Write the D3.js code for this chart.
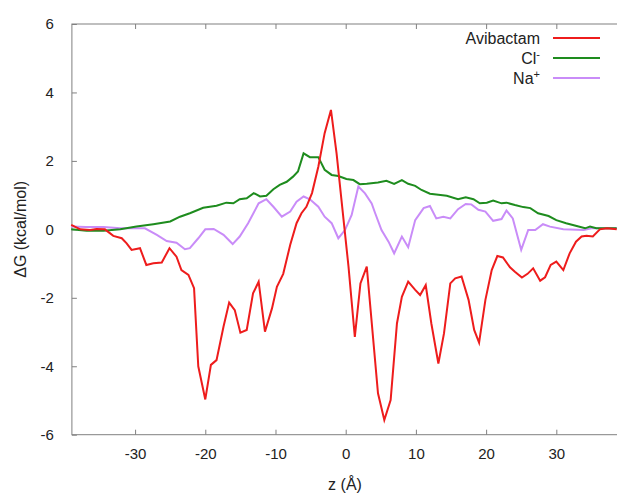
<!DOCTYPE html>
<html lang="en">
<head>
    <meta charset="UTF-8">
    <title>Free energy profile</title>
    <style>
        body { margin: 0; background: #fff; }
        svg { display: block; font-family: "Liberation Sans", Arial, sans-serif; }
        .axis path, .axis line { stroke: #808080; }
        .axis text { fill: #222; font-size: 15px; }
    </style>
</head>
<body>
    <svg id="chart" width="617" height="493"></svg>
    <script src="https://d3js.org/d3.v7.min.js"></script>
    <script>
        // [z (Å), ΔG (kcal/mol)]
        var avibactam = [
            [-39.1, 0.13], [-37.8, 0.0], [-36.4, -0.02], [-35.5, 0.01], [-34.3, 0.0], [-33.1, -0.19],
            [-31.9, -0.26], [-31.2, -0.41], [-30.5, -0.6], [-29.3, -0.55], [-28.4, -1.04], [-27.4, -0.99],
            [-26.2, -0.97], [-25.1, -0.55], [-24.1, -0.8], [-23.4, -1.19], [-22.4, -1.33], [-21.6, -1.72],
            [-21.0, -4.0], [-20.0, -4.97], [-19.2, -3.96], [-18.4, -3.82], [-17.4, -2.84], [-16.6, -2.14],
            [-15.8, -2.36], [-15.0, -3.02], [-14.1, -2.94], [-13.2, -1.87], [-12.4, -1.53], [-11.5, -2.99],
            [-10.5, -2.31], [-9.8, -1.68], [-8.9, -1.3], [-7.9, -0.45], [-7.0, 0.18], [-6.3, 0.47],
            [-5.6, 0.66], [-4.8, 1.06], [-3.9, 1.83], [-3.0, 2.81], [-2.1, 3.49], [-1.3, 2.22],
            [-0.3, 0.27], [0.4, -1.09], [1.3, -3.14], [2.1, -1.58], [3.0, -1.09], [4.6, -4.79],
            [5.5, -5.57], [6.4, -4.99], [7.3, -2.75], [8.0, -1.97], [8.9, -1.53], [9.9, -1.77],
            [10.6, -1.92], [11.4, -1.63], [12.2, -2.75], [13.2, -3.92], [14.0, -3.04], [14.9, -1.58],
            [15.6, -1.43], [16.5, -1.38], [17.5, -2.06], [18.3, -2.94], [19.0, -3.31], [19.9, -2.06],
            [20.8, -1.19], [21.6, -0.78], [22.4, -0.82], [23.4, -1.11], [24.1, -1.24], [25.1, -1.41],
            [25.9, -1.30], [26.7, -1.14], [27.7, -1.50], [28.4, -1.40], [29.2, -1.04], [30.0, -0.94],
            [31.0, -1.19], [31.9, -0.70], [32.8, -0.36], [33.6, -0.21], [34.3, -0.19], [35.2, -0.21],
            [36.2, 0.0], [37.2, 0.03], [38.6, 0.0]
        ];

        var chloride = [
            [-39.1, 0.0], [-36.9, -0.04], [-34.5, -0.04], [-32.1, 0.0], [-29.8, 0.08], [-27.4, 0.15],
            [-25.0, 0.23], [-23.6, 0.37], [-22.2, 0.47], [-20.3, 0.63], [-18.4, 0.69], [-17.0, 0.78],
            [-16.0, 0.76], [-15.1, 0.88], [-14.1, 0.91], [-13.1, 1.06], [-12.2, 0.96], [-11.3, 0.98],
            [-10.3, 1.17], [-9.4, 1.3], [-8.4, 1.39], [-7.5, 1.54], [-6.8, 1.69], [-6.0, 2.22],
            [-5.1, 2.11], [-3.9, 2.11], [-3.0, 1.74], [-2.0, 1.59], [-1.05, 1.56], [0.1, 1.47],
            [1.1, 1.44], [2.0, 1.32], [3.0, 1.33], [4.6, 1.37], [5.8, 1.42], [6.9, 1.33],
            [8.0, 1.44], [8.9, 1.33], [9.9, 1.27], [10.8, 1.15], [12.0, 1.04], [13.2, 1.01],
            [14.4, 0.98], [16.0, 0.88], [17.1, 0.94], [18.2, 0.88], [19.1, 0.76], [20.1, 0.78],
            [21.0, 0.84], [22.2, 0.76], [22.9, 0.78], [24.1, 0.71], [25.3, 0.65], [26.3, 0.62],
            [27.4, 0.47], [28.9, 0.39], [30.0, 0.27], [31.4, 0.18], [32.9, 0.10], [34.1, 0.03],
            [34.8, 0.08], [35.7, 0.03], [38.6, 0.03]
        ];

        var sodium = [
            [-39.1, 0.08], [-37.0, 0.07], [-34.5, 0.07], [-32.1, 0.03], [-28.6, 0.03], [-26.9, -0.16],
            [-25.5, -0.34], [-24.1, -0.39], [-22.9, -0.58], [-22.2, -0.55], [-21.0, -0.26], [-20.0, 0.0],
            [-18.8, 0.01], [-17.4, -0.16], [-16.1, -0.43], [-15.1, -0.21], [-13.9, 0.18], [-12.4, 0.76],
            [-11.3, 0.88], [-10.3, 0.66], [-9.1, 0.37], [-7.9, 0.52], [-7.0, 0.81], [-6.0, 0.96],
            [-5.1, 0.88], [-3.9, 0.66], [-3.0, 0.37], [-2.0, 0.18], [-1.05, -0.26], [-0.1, -0.02],
            [0.85, 0.42], [1.8, 1.25], [2.75, 1.05], [3.7, 0.76], [4.2, 0.47], [5.1, -0.02],
            [6.1, -0.36], [6.9, -0.70], [8.0, -0.21], [8.9, -0.52], [9.9, 0.27], [11.1, 0.62],
            [12.0, 0.68], [12.9, 0.32], [13.9, 0.37], [14.9, 0.32], [16.0, 0.59], [17.1, 0.74],
            [17.9, 0.73], [18.9, 0.57], [19.9, 0.52], [21.0, 0.25], [22.2, 0.30], [22.9, 0.55],
            [23.8, 0.32], [25.0, -0.60], [26.0, -0.02], [27.0, -0.02], [28.1, 0.15], [29.1, 0.08],
            [31.0, 0.0], [33.9, -0.02], [35.0, 0.03], [38.6, 0.03]
        ];

        var xTicks = [-30, -20, -10, 0, 10, 20, 30];
        var yTicks = [-6, -4, -2, 0, 2, 4, 6];

        var series = [
            { name: "Avibactam", sup: "", values: avibactam, color: "#ee1c1c" },
            { name: "Cl", sup: "-", values: chloride, color: "#1e8c1e" },
            { name: "Na", sup: "+", values: sodium, color: "#c98cf8" }
        ];

        var svg = d3.select("#chart");

        var plotLeft = 71.9, plotRight = 619.5, plotTop = 24, plotBottom = 434.7;

        var x = d3.scaleLinear().domain([-39, 39]).range([plotLeft, plotRight]);
        var y = d3.scaleLinear().domain([-6, 6]).range([plotBottom, plotTop]);

        // plain hyphen for negatives, like the original
        var fmt = function(d) { return String(d); };

        // frame
        svg.append("rect")
            .attr("x", plotLeft).attr("y", plotTop)
            .attr("width", plotRight - plotLeft).attr("height", plotBottom - plotTop)
            .attr("fill", "none").attr("stroke", "#808080");

        // axes with inward ticks, gnuplot style
        svg.append("g").attr("class", "axis")
            .attr("transform", "translate(0," + plotBottom + ")")
            .call(d3.axisBottom(x).tickValues(xTicks).tickSizeInner(-5).tickSizeOuter(0).tickPadding(14).tickFormat(fmt))
            .call(function(g) { g.select(".domain").remove(); });

        svg.append("g").attr("class", "axis")
            .attr("transform", "translate(0," + plotTop + ")")
            .call(d3.axisTop(x).tickValues(xTicks).tickSizeInner(-5).tickSizeOuter(0).tickFormat(""))
            .call(function(g) { g.select(".domain").remove(); });

        svg.append("g").attr("class", "axis")
            .attr("transform", "translate(" + plotLeft + ",0)")
            .call(d3.axisLeft(y).tickValues(yTicks).tickSizeInner(-5).tickSizeOuter(0).tickPadding(18).tickFormat(fmt))
            .call(function(g) { g.select(".domain").remove(); });

        // axis titles
        svg.append("text")
            .attr("x", 345).attr("y", 490)
            .attr("text-anchor", "middle")
            .style("font-size", "16px").style("fill", "#222")
            .text("z (Å)");

        svg.append("text")
            .attr("transform", "translate(26," + y(0) + ") rotate(-90)")
            .attr("text-anchor", "middle")
            .style("font-size", "16px").style("fill", "#222")
            .text("ΔG (kcal/mol)");

        // curves
        var line = d3.line()
            .x(function(d) { return x(d[0]); })
            .y(function(d) { return y(d[1]); });

        // draw violet first, then green, then red on top
        series.slice().reverse().forEach(function(s) {
            svg.append("path")
                .datum(s.values)
                .attr("d", line)
                .attr("fill", "none")
                .attr("stroke", s.color)
                .attr("stroke-width", 2);
        });

        // legend
        var legend = svg.append("g").selectAll("g")
            .data(series)
            .enter().append("g")
            .attr("transform", function(d, i) { return "translate(0," + (38 + i * 20) + ")"; });

        legend.append("line")
            .attr("x1", 553).attr("x2", 600)
            .attr("stroke", function(d) { return d.color; })
            .attr("stroke-width", 2);

        var label = legend.append("text")
            .attr("x", 540).attr("y", 5.5)
            .attr("text-anchor", "end")
            .style("font-size", "16px").style("fill", "#222");

        label.append("tspan").text(function(d) { return d.name; });
        label.append("tspan")
            .attr("dy", -6)
            .style("font-size", "11px")
            .text(function(d) { return d.sup; });
    </script>
</body>
</html>
